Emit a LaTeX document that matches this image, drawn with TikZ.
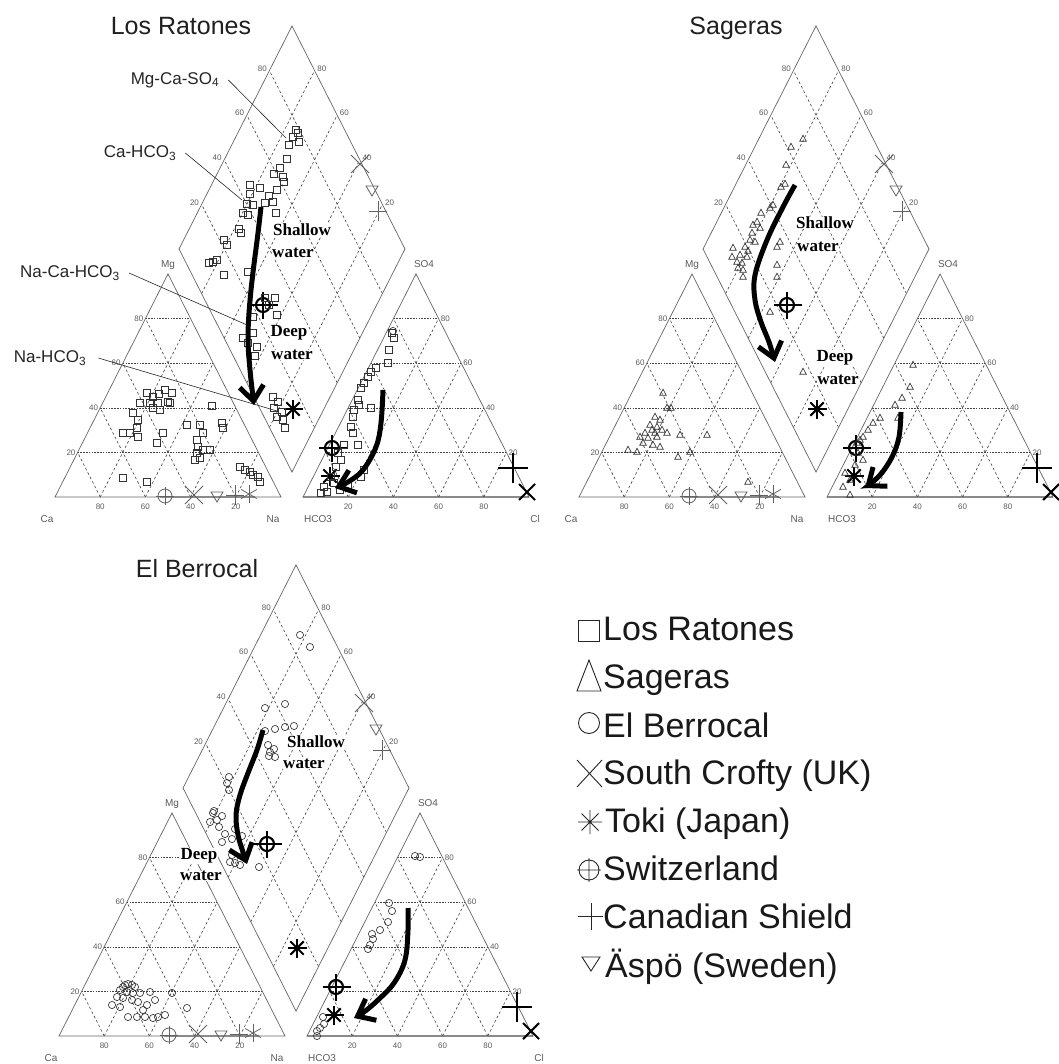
\documentclass[tikz,border=0pt]{standalone}
\usepackage{fontspec}
\setmainfont{Liberation Sans}
\newfontfamily\timesf{Liberation Serif}
\usetikzlibrary{arrows.meta}
\definecolor{edgec}{gray}{0.40}
\definecolor{gridc}{gray}{0.26}
\definecolor{labc}{gray}{0.36}
\tikzset{
  edge/.style={draw=edgec, line width=0.7pt},
  hgrid/.style={draw=gridc, line width=0.6pt, dash pattern=on 1.6pt off 1.2pt},
  sgrid/.style={draw=gridc, line width=0.6pt, dash pattern=on 2.6pt off 2.4pt},
  tick/.style={font=\fontsize{8}{8}\selectfont, text=labc, inner sep=0.5pt},
  vlab/.style={font=\fontsize{10}{10}\selectfont, text=labc, inner sep=0.5pt},
  chem/.style={font=\fontsize{17}{17}\selectfont, text=black!85, inner sep=1pt},
  leader/.style={draw=black!85, line width=0.6pt},
  wlab/.style={font=\timesf\bfseries\fontsize{17}{17}\selectfont, fill=white, inner sep=0.3pt},
  title/.style={font=\fontsize{25}{25}\selectfont, text=black!88, inner sep=0pt},
  legtext/.style={font=\fontsize{34}{34}\selectfont, text=black!90, inner sep=0pt, anchor=base west},
  legsym/.style={draw=black!85, line width=0.9pt},
  mk/.style={draw=black!80, line width=0.65pt},
  refb/.style={draw=black, line width=2.1pt},
  reft/.style={draw=black!62, line width=0.8pt},
  bigarrow/.style={draw=black, line width=5pt, -{Straight Barb[length=15pt,width=24pt]}},
  pics/mksq/.style={code={\draw[mk] (-3.6,-3.6) rectangle (3.6,3.6);}},
  pics/mktri/.style={code={\draw[mk] (0,-3.8) -- (3.3,2.3) -- (-3.3,2.3) -- cycle;}},
  pics/mkcirc/.style={code={\draw[mk] (0,0) circle (3.6);}},
  pics/swb/.style={code={\draw[refb] (0,0) circle (7); \draw[refb] (-13,0) -- (15,0); \draw[refb] (0,-13) -- (0,14);}},
  pics/tokib/.style={code={\foreach \a in {0,45,90,135}{\draw[refb] (\a:9.5) -- (\a+180:9.5);}}},
  pics/plusb/.style={code={\draw[refb] (-15,0) -- (15,0); \draw[refb] (0,-15) -- (0,15);}},
  pics/crossb/.style={code={\draw[refb] (-8,-8) -- (8,8); \draw[refb] (-8,8) -- (8,-8);}},
  pics/swt/.style={code={\draw[reft] (0,0) circle (7); \draw[reft] (-9,0) -- (9,0); \draw[reft] (0,-9) -- (0,9);}},
  pics/crosst/.style={code={\draw[reft] (-9,-9) -- (9,9); \draw[reft] (-9,9) -- (9,-9);}},
  pics/invtri/.style={code={\draw[reft] (-6,-5) -- (6,-5) -- (0,5) -- cycle;}},
  pics/plust/.style={code={\draw[reft] (-9,0) -- (9,0); \draw[reft] (0,-10) -- (0,10);}},
  pics/tokit/.style={code={\foreach \a in {30,90,150}{\draw[reft] (\a:9) -- (\a+180:9);}}},
}
% #1,#2 origin (Ca vertex), #3 name prefix, #4 text of the Cl label
\newcommand{\piperframe}[4]{%
\begin{scope}[shift={(#1,#2)}]
  \draw[line width=1.9pt, black!38] (105,0) -- (200,0);
  \draw[line width=1.7pt, black!38] (248,0) -- (474,0);
  \foreach \k in {1,2,3,4}{%
    \pgfmathsetmacro{\f}{\k/5}%
    \pgfmathtruncatemacro{\v}{20*\k}%
    \pgfmathtruncatemacro{\w}{100-20*\k}%
    \draw[hgrid] ({\f*113},{-\f*223}) -- ({226-\f*113},{-\f*223});
    \draw[sgrid] ({\f*226},0) -- ({\f*226+(1-\f)*113},{-(1-\f)*223});
    \draw[sgrid] ({\f*226},0) -- ({\f*113},{-\f*223});
    \draw[hgrid] ({248+\f*113},{-\f*223}) -- ({474-\f*113},{-\f*223});
    \draw[sgrid] ({248+\f*226},0) -- ({248+\f*226+(1-\f)*113},{-(1-\f)*223});
    \draw[sgrid] ({248+\f*226},0) -- ({248+\f*113},{-\f*223});
    \draw[sgrid] ({237+\f*113},{-25-\f*223}) -- ({124+\f*113},{-248-\f*223});
    \draw[sgrid] ({237-\f*113},{-25-\f*223}) -- ({350-\f*113},{-248-\f*223});
    \node[tick, anchor=east] (#3tl\k) at ({\f*113-1.5},{-\f*223}) {\v};
    \node[tick, anchor=north] (#3bl\k) at ({\f*226},6) {\w};
    \node[tick, anchor=west] (#3tr\k) at ({474-\f*113+1.5},{-\f*223}) {\v};
    \node[tick, anchor=north] (#3br\k) at ({248+\f*226},6) {\v};
    \node[tick, anchor=east] (#3dl\k) at ({124+\f*113-2},{-250-\f*223}) {\v};
    \node[tick, anchor=west] (#3dr\k) at ({350-\f*113+2},{-250-\f*223}) {\v};
  }
  \draw[edge] (0,0) -- (226,0) -- (113,-223) -- cycle;
  \draw[edge] (248,0) -- (474,0) -- (361,-223) -- cycle;
  \draw[edge] (237,-25) -- (350,-248) -- (237,-471) -- (124,-248) -- cycle;
  \node[vlab] (#3ca) at (-8,22) {Ca};
  \node[vlab] (#3na) at (218,22) {Na};
  \node[vlab] (#3hc) at (263,22) {HCO3};
  \node[vlab] (#3cl) at (480,22) {#4};
  \node[vlab] (#3mg) at (113,-232) {Mg};
  \node[vlab] (#3so) at (369,-233) {SO4};
  \pic at (110,-1) {swt};
  \pic at (139,-2) {crosst};
  \pic at (162,0) {invtri};
  \pic at (180,-2) {plust};
  \pic at (194,-3) {tokit};
  \pic at (305,-333) {crosst};
  \pic at (317,-306) {invtri};
  \pic at (323,-286) {plust};
  \pic at (208,-192) {swb};
  \pic at (238,-88) {tokib};
  \pic at (277,-49) {swb};
  \pic at (275,-21) {tokib};
  \pic at (458,-29) {plusb};
  \pic at (472,-5) {crossb};
\end{scope}}
\begin{document}
\begin{tikzpicture}[x=1pt,y=-1pt]
\useasboundingbox (0,0) rectangle (1058,1064);
\fill[white] (0,0) rectangle (1058,1064);

\piperframe{55}{497}{lr}{Cl}
\piperframe{579}{497}{sg}{}
\piperframe{59}{1036}{eb}{Cl}

% ---------- Los Ratones data ----------
\foreach \x/\y in {296/130, 298/133, 293/137, 299/142, 289/145, 287/159, 280/168, 283/177, 274/174, 284/182, 277/190, 250/185, 260/188, 269/196, 273/202, 250/194, 247/204, 253/205, 243/213, 248/215, 265/203, 276/213, 239/229, 241/233, 224/240, 227/245, 217/260, 213/262, 209/263, 224/275, 248/272, 265/298, 275/298, 269/305, 277/315, 253/317, 253/333, 243/338, 257/347, 248/343, 255/356, 273/397, 278/402, 274/408, 282/412, 283/420, 285/428, 277/417}
  \pic at (\x,\y) {mksq};
\foreach \x/\y in {147/393, 153/397, 159/394, 165/390, 172/393, 140/403, 150/403, 158/403, 168/402, 153/408, 160/410, 170/403, 133/413, 138/420, 137/428, 123/433, 130/433, 138/437, 163/433, 157/443, 187/425, 200/425, 203/433, 212/406, 222/423, 223/428, 197/440, 198/447, 203/450, 210/450, 197/453, 200/458, 195/460, 240/467, 245/470, 250/472, 253/475, 258/477, 260/482, 123/478, 147/482}
  \pic at (\x,\y) {mksq};
\foreach \x/\y in {392/333, 394/338, 389/350, 388/363, 376/368, 371/372, 368/377, 364/383, 361/388, 358/400, 359/405, 354/410, 371/408, 353/417, 351/427, 353/433, 358/445, 344/445, 338/453, 341/460, 336/467, 364/470, 361/477, 331/477, 324/487, 321/493, 334/483, 348/485, 327/492, 340/490}
  \pic at (\x,\y) {mksq};
\pic at (393,331) {mkcirc};

% ---------- Sageras data ----------
\foreach \x/\y in {803/139, 791/147, 786/165, 785/184, 781/187, 773/205, 770/208, 761/213, 757/222, 753/225, 760/228, 752/233, 750/240, 755/242, 733/248, 745/247, 740/255, 732/257, 747/257, 737/262, 742/263, 743/270, 743/277, 780/242, 777/247, 777/265, 777/277, 770/312, 803/372, 748/251, 738/268}
  \pic at (\x,\y) {mktri};
\foreach \x/\y in {663/393, 667/408, 671/408, 655/417, 660/420, 650/425, 657/427, 652/430, 662/430, 645/433, 655/433, 640/437, 648/438, 657/437, 643/443, 653/445, 660/447, 637/452, 628/450, 667/433, 680/435, 707/435, 690/452, 678/457, 748/482}
  \pic at (\x,\y) {mktri};
\foreach \x/\y in {913/365, 910/387, 902/398, 895/405, 898/418, 880/418, 873/423, 868/430, 863/437, 857/443, 863/460, 858/453, 845/473, 850/480, 843/487, 850/495, 860/440, 855/465}
  \pic at (\x,\y) {mktri};

% ---------- El Berrocal data ----------
\foreach \x/\y in {300/635, 310/647, 265/708, 285/704, 265/731, 275/729, 285/727, 294/726, 270/752, 269/756, 274/749, 268/745, 275/757, 229/777, 227/783, 229/790, 214/811, 222/816, 210/822, 219/827, 225/834, 235/829, 222/842, 232/839, 242/836, 232/855, 235/863, 240/865, 230/862, 259/867, 213/813, 217/820}
  \pic at (\x,\y) {mkcirc};
\foreach \x/\y in {123/987, 128/984, 135/987, 120/990, 127/992, 133/993, 140/993, 117/997, 123/998, 132/1000, 138/1002, 112/1005, 120/1007, 147/1005, 143/1010, 150/992, 155/1000, 128/1017, 137/1017, 145/1017, 153/1018, 158/1017, 165/1015, 187/1008, 172/993, 125/985, 132/985}
  \pic at (\x,\y) {mkcirc};
\foreach \x/\y in {415/856, 420/857, 389/903, 392/911, 388/922, 380/930, 372/934, 373/939, 370/945, 368/949, 317/1031, 320/1028, 324/1024, 317/1036, 323/1017}
  \pic at (\x,\y) {mkcirc};

% ---------- titles ----------
\node[title, anchor=base] (t1) at (181,35) {Los Ratones};
\node[title, anchor=base] (t2) at (736,35) {Sageras};
\node[title, anchor=base] (t3) at (197,577) {El Berrocal};

% ---------- Los Ratones classification labels ----------
\node[chem] (c1) at (175,80) {Mg-Ca-SO\textsubscript{4}};
\node[chem] (c2) at (140,153) {Ca-HCO\textsubscript{3}};
\node[chem] (c3) at (70,273) {Na-Ca-HCO\textsubscript{3}};
\node[chem] (c4) at (50,358) {Na-HCO\textsubscript{3}};
\coordinate (e1) at (286,138);
\coordinate (e2) at (242,200);
\coordinate (e3) at (247,325);
\coordinate (e4) at (277,411);
\draw[leader] ([xshift=8pt]c1.east) -- (e1);
\draw[leader] ([xshift=8pt]c2.east) -- (e2);
\draw[leader] ([xshift=8pt]c3.east) -- (e3);
\draw[leader] ([xshift=11pt]c4.east) -- (e4);

% ---------- water labels ----------
\node[wlab] (w1) at (302,230) {Shallow};
\node[wlab] (w2) at (293,253) {water};
\node[wlab] (w3) at (289,333) {Deep};
\node[wlab] (w4) at (292,355) {water};
\node[wlab] (w5) at (825,223) {Shallow};
\node[wlab] (w6) at (818,247) {water};
\node[wlab] (w7) at (835,358) {Deep};
\node[wlab] (w8) at (838,380) {water};
\node[wlab] (w9) at (316,742) {Shallow};
\node[wlab] (w10) at (304,764) {water};
\node[wlab] (w11) at (199,856) {Deep};
\node[wlab] (w12) at (201,876) {water};

% ---------- arrows ----------
\draw[bigarrow] plot[smooth, tension=0.6] coordinates {(261,207) (258,233) (251,290) (248,335) (250,370) (254,405)};
\draw[bigarrow] plot[smooth, tension=0.6] coordinates {(383,390) (381,423) (376,447) (363,470) (348,482) (335,488)};
\draw[bigarrow] plot[smooth, tension=0.6] coordinates {(795,185) (783,207) (767,240) (755,275) (755,300) (761,322) (769,342) (775,362)};
\draw[bigarrow] plot[smooth, tension=0.6] coordinates {(901,412) (899,437) (892,457) (880,475) (865,488)};
\draw[bigarrow] plot[smooth, tension=0.6] coordinates {(263,730) (257,750) (248,773) (240,795) (236,815) (238,835) (243,852) (247,864)};
\draw[bigarrow] plot[smooth, tension=0.6] coordinates {(408,908) (408,930) (405,960) (394,983) (378,1000) (364,1012) (354,1018)};

% ---------- legend ----------
\draw[legsym] (578,620) rectangle (599,641);
\draw[legsym] (589,660) -- (601,691) -- (577,691) -- cycle;
\draw[legsym] (589,723) circle (10.5);
\draw[legsym] (577,760) -- (602,787) (577,787) -- (602,760);
\draw[legsym] (590,810) -- (590,834) (578,822) -- (602,822) (581.5,813.5) -- (598.5,830.5) (581.5,830.5) -- (598.5,813.5);
\draw[legsym] (589,870) circle (10) (577,870) -- (601,870) (589,858) -- (589,882);
\draw[legsym] (578,916) -- (603,916) (591,903) -- (591,930);
\draw[legsym] (582,957) -- (600,957) -- (591,971) -- cycle;
\node[legtext] (l1) at (603,640) {Los Ratones};
\node[legtext] (l2) at (603,688) {Sageras};
\node[legtext] (l3) at (603,737) {El Berrocal};
\node[legtext] (l4) at (603,784) {South Crofty (UK)};
\node[legtext] (l5) at (605,832) {Toki (Japan)};
\node[legtext] (l6) at (603,880) {Switzerland};
\node[legtext] (l7) at (603,928) {Canadian Shield};
\node[legtext] (l8) at (605,977) {Äspö (Sweden)};
\end{tikzpicture}
\end{document}
